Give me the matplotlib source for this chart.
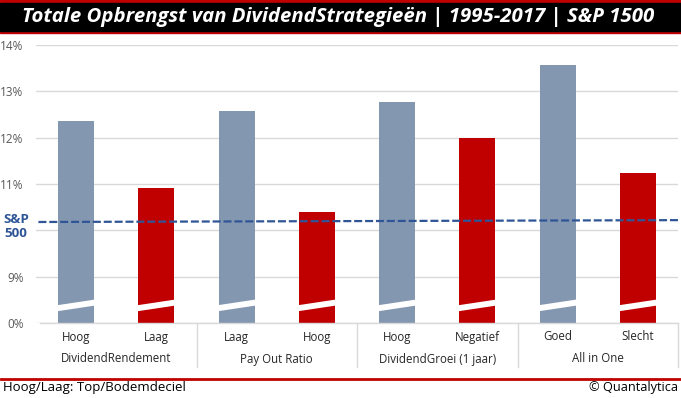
import matplotlib.pyplot as plt
from matplotlib.patches import Rectangle
from matplotlib.lines import Line2D
from matplotlib.transforms import blended_transform_factory

# data (total return, % per year)
sub_labels = ["Hoog", "Laag", "Laag", "Hoog", "Hoog", "Negatief", "Goed", "Slecht"]
group_labels = ["DividendRendement", "Pay Out Ratio", "DividendGroei (1 jaar)", "All in One"]
returns = [12.36, 10.91, 12.58, 10.40, 12.77, 12.00, 13.57, 11.24]
sp500 = [10.18, 10.22]
tick_vals = [8, 9, 10, 11, 12, 13, 14]
tick_text = ["0%", "9%", "", "11%", "12%", "13%", "14%"]

GREY = "#8497B0"
RED = "#C00000"
BLUE = "#2F5597"
colors = [GREY, RED] * 4

plt.rcParams["font.family"] = ["Open Sans", "DejaVu Sans"]

W, H = 681, 398
fig = plt.figure(figsize=(W / 100, H / 100), dpi=100)

# title banner
fig.patches.append(Rectangle((0, 1 - 33 / H), 1, 33 / H, transform=fig.transFigure,
                             color=RED, zorder=0))
fig.patches.append(Rectangle((0, 1 - 30.5 / H), 1, 27.5 / H, transform=fig.transFigure,
                             color="black", zorder=1))
fig.text(22 / W, 1 - 17 / H, "Totale Opbrengst van DividendStrategieën | 1995-2017 | S&P 1500",
         color="white", fontsize=14.7, fontweight="bold", fontstyle="italic",
         va="center", ha="left")

ax = fig.add_axes([36 / W, 1 - 323 / H, 642 / W, 278 / H])

x = list(range(len(returns)))
ax.bar(x, returns, width=0.45, color=colors, zorder=2)

# broken-axis marks on each bar
for xi in x:
    ax.fill([xi - 0.25, xi + 0.25, xi + 0.25, xi - 0.25],
            [8.25, 8.38, 8.51, 8.38], color="white", lw=0, zorder=3)

ax.plot([-0.47, 7.5], sp500, color=BLUE, lw=1.6, dashes=(3.6, 1.3), zorder=4)

ax.set_xlim(-0.5, 7.5)
ax.set_ylim(8, 14)
ax.set_yticks(tick_vals)
ax.set_yticklabels(tick_text)
ax.tick_params(axis="y", length=0, pad=9, labelsize=8.5, labelcolor="#595959")
ax.set_xticks([])
ax.grid(axis="y", color="#D9D9D9", lw=1, zorder=0)
for s in ax.spines.values():
    s.set_visible(False)

# x axis line and category labels
trans = blended_transform_factory(ax.transData, fig.transFigure)
fig.add_artist(Line2D([40 / W, 678 / W], [1 - 323 / H] * 2, color="#D9D9D9", lw=1))
for xi, lab in zip(x, sub_labels):
    ax.text(xi, 1 - 337 / H, lab, transform=trans, ha="center", va="center",
            fontsize=8.3, color="#262626")
for g, lab in enumerate(group_labels):
    ax.text(2 * g + 0.5, 1 - 359 / H, lab, transform=trans, ha="center", va="center",
            fontsize=8.3, color="#262626")
for g in range(1, 5):
    xp = (36 + 160.5 * g) / W
    fig.add_artist(Line2D([xp, xp], [1 - 323 / H, 1 - 367 / H], color="#D9D9D9", lw=1))

fig.text(16 / W, 1 - 226.5 / H, "S&P\n500", color=BLUE, fontsize=9.6, fontweight="bold",
         ha="center", va="center", linespacing=1.05)

# footer
fig.add_artist(Line2D([1 / W, 680 / W], [1 - 378.5 / H] * 2, color=RED, lw=2))
fig.text(3 / W, 1 - 388 / H, "Hoog/Laag: Top/Bodemdeciel", fontsize=9.5, ha="left", va="center")
fig.text(678 / W, 1 - 388 / H, "© Quantalytica", fontsize=9.2, ha="right", va="center")

fig.savefig("out.png", dpi=100)
